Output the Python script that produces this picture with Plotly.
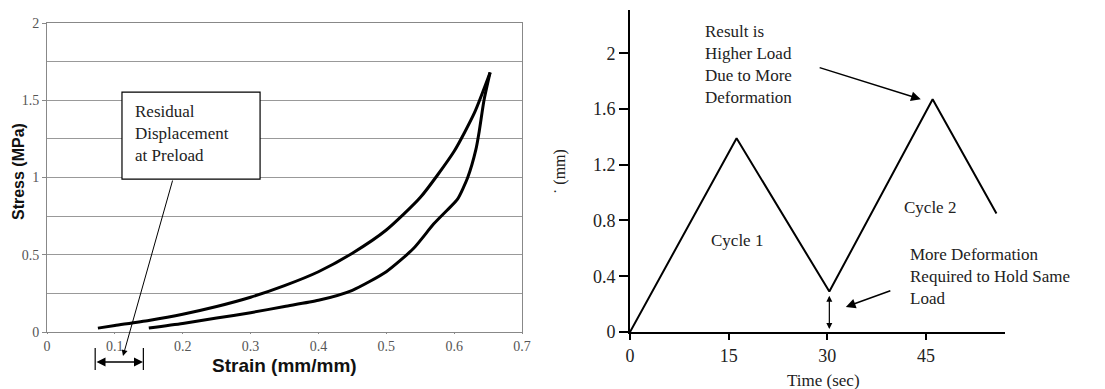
import plotly.graph_objects as go

W, H = 1105, 389

# ---------------- data ----------------
# Left: stress-strain hysteresis
load_strain = [0.075, 0.10, 0.15, 0.20, 0.25, 0.30, 0.35, 0.40, 0.45, 0.50, 0.55, 0.60, 0.63, 0.653]
load_stress = [0.025, 0.042, 0.075, 0.115, 0.165, 0.225, 0.30, 0.39, 0.51, 0.66, 0.87, 1.17, 1.42, 1.68]
unload_strain = [0.653, 0.644, 0.637, 0.632, 0.620, 0.605, 0.590, 0.570, 0.540, 0.50, 0.45, 0.40, 0.35, 0.30, 0.25, 0.20, 0.15]
unload_stress = [1.68, 1.50, 1.30, 1.18, 1.00, 0.86, 0.79, 0.70, 0.54, 0.39, 0.27, 0.205, 0.165, 0.125, 0.09, 0.055, 0.026]

strain_ticks = [0, 0.1, 0.2, 0.3, 0.4, 0.5, 0.6, 0.7]
stress_ticks = [0, 0.5, 1, 1.5, 2]

# Right: displacement vs time
time_s = [0, 16.2, 30.3, 46.0, 55.7]
disp_mm = [0, 1.39, 0.29, 1.67, 0.85]
time_ticks = [0, 15, 30, 45]
disp_ticks = [0, 0.4, 0.8, 1.2, 1.6, 2]
disp_ticktext = ["0", "0.4", "0.8", "1.2", "1.6", "2"]

SERIF = "Liberation Serif, Times New Roman, serif"
SANS = "Liberation Sans, Arial, sans-serif"


def px(x):
    return x / W


def py(y):
    return 1 - y / H


fig = go.Figure()
fig.add_trace(go.Scatter(x=load_strain, y=load_stress, mode="lines",
                         line=dict(color="black", width=3, shape="spline", smoothing=0.6),
                         xaxis="x", yaxis="y", hoverinfo="skip"))
fig.add_trace(go.Scatter(x=unload_strain, y=unload_stress, mode="lines",
                         line=dict(color="black", width=3, shape="spline", smoothing=0.6),
                         xaxis="x", yaxis="y", hoverinfo="skip"))
fig.add_trace(go.Scatter(x=time_s, y=disp_mm, mode="lines",
                         line=dict(color="black", width=2),
                         xaxis="x2", yaxis="y2", hoverinfo="skip"))

annotations = []
shapes = []

# ---- left chart annotations ----
shapes.append(dict(type="rect", xref="x", yref="y", x0=0.1105, x1=0.314, y0=0.99, y1=1.553,
                   line=dict(color="black", width=1.2), fillcolor="white", layer="above"))
annotations.append(dict(xref="x", yref="y", x=0.1265, y=1.50, xanchor="left", yanchor="top",
                        text="Residual<br>Displacement<br>at Preload", showarrow=False, align="left",
                        font=dict(family=SERIF, size=17, color="#222")))
annotations.append(dict(xref="paper", yref="paper", x=px(123), y=py(356), ax=50, ay=-177,
                        text="", showarrow=True,
                        arrowhead=2, arrowsize=1.2, arrowwidth=1, arrowcolor="black"))
annotations.append(dict(xref="paper", yref="paper", x=px(143), y=py(362), ax=-48, ay=0,
                        text="", showarrow=True, arrowside="end+start",
                        arrowhead=2, startarrowhead=2, arrowsize=1.2, startarrowsize=1.2,
                        arrowwidth=1.5, arrowcolor="black"))
for xv in [0.071, 0.142]:
    shapes.append(dict(type="line", xref="x", yref="paper", x0=xv, x1=xv, y0=py(348), y1=py(370),
                       line=dict(color="black", width=1.2)))
annotations.append(dict(xref="paper", yref="paper", x=px(19), y=py(172), text="Stress (MPa)",
                        xanchor="center", yanchor="middle", textangle=-90, showarrow=False,
                        font=dict(family=SANS, size=16, color="#111", weight="bold")))
annotations.append(dict(xref="paper", yref="paper", x=px(284), y=py(365), text="Strain (mm/mm)",
                        xanchor="center", yanchor="middle", showarrow=False,
                        font=dict(family=SANS, size=19, color="#111", weight="bold")))

# ---- right chart annotations ----
annotations.append(dict(xref="x2", yref="y2", x=11.1, y=2.24, xanchor="left", yanchor="top",
                        text="Result is<br>Higher Load<br>Due to More<br>Deformation", showarrow=False,
                        align="left", font=dict(family=SERIF, size=17, color="#222")))
annotations.append(dict(xref="x2", yref="y2", x=44.2, y=1.67, axref="x2", ayref="y2", ax=28.6, ay=1.90,
                        text="", showarrow=True, arrowhead=2, arrowsize=1.3, arrowwidth=1.5,
                        arrowcolor="black"))
annotations.append(dict(xref="x2", yref="y2", x=16.3, y=0.66, text="Cycle 1", showarrow=False,
                        xanchor="center", yanchor="middle", font=dict(family=SERIF, size=17, color="#222")))
annotations.append(dict(xref="x2", yref="y2", x=45.6, y=0.89, text="Cycle 2", showarrow=False,
                        xanchor="center", yanchor="middle", font=dict(family=SERIF, size=17, color="#222")))
annotations.append(dict(xref="x2", yref="y2", x=42.3, y=0.64, xanchor="left", yanchor="top",
                        text="More Deformation<br>Required to Hold Same<br>Load", showarrow=False,
                        align="left", font=dict(family=SERIF, size=17, color="#222")))
annotations.append(dict(xref="x2", yref="y2", x=32.8, y=0.18, axref="x2", ayref="y2", ax=39.8, ay=0.30,
                        text="", showarrow=True, arrowhead=2, arrowsize=1.3, arrowwidth=1.5,
                        arrowcolor="black"))
annotations.append(dict(xref="x2", yref="y2", x=30.3, y=0.26, axref="x2", ayref="y2", ax=30.3, ay=0.01,
                        text="", showarrow=True, arrowside="end+start", arrowhead=2, startarrowhead=2,
                        arrowsize=1, startarrowsize=1, arrowwidth=1.2, arrowcolor="black"))
annotations.append(dict(xref="paper", yref="paper", x=px(823), y=py(380), text="Time (sec)",
                        xanchor="center", yanchor="middle", showarrow=False,
                        font=dict(family=SERIF, size=17, color="#222")))
annotations.append(dict(xref="paper", yref="paper", x=px(560), y=py(172), text="˙ (mm)",
                        xanchor="center", yanchor="middle", textangle=-90, showarrow=False,
                        font=dict(family=SERIF, size=16, color="#222")))

fig.update_layout(
    width=W, height=H, margin=dict(l=0, r=0, t=0, b=0, autoexpand=False),
    paper_bgcolor="white", plot_bgcolor="white", showlegend=False,
    xaxis=dict(domain=[px(47), px(522)], range=[0, 0.7], tickvals=strain_ticks, automargin=False,
               showgrid=False, zeroline=False, showline=True, linecolor="#888", linewidth=1,
               mirror=True, ticks="outside", ticklen=1, tickcolor="#888",
               tickfont=dict(family=SERIF, size=14, color="#555"), anchor="y"),
    yaxis=dict(domain=[py(332), py(23)], range=[0, 2], tickvals=stress_ticks, automargin=False,
               showgrid=True, gridcolor="#999", gridwidth=1, zeroline=False,
               showline=True, linecolor="#888", linewidth=1, mirror=True,
               ticks="outside", ticklen=4, tickcolor="#888",
               minor=dict(dtick=0.25, showgrid=True, gridcolor="#999", gridwidth=1),
               tickfont=dict(family=SERIF, size=14, color="#555"), anchor="x"),
    xaxis2=dict(domain=[px(630), px(1005)], range=[0, 57], tickvals=time_ticks, automargin=False,
                showgrid=False, zeroline=False, showline=True, linecolor="black", linewidth=2,
                ticks="outside", ticklen=6, tickwidth=1.5, tickcolor="black",
                tickfont=dict(family=SERIF, size=18, color="#222"), anchor="y2"),
    yaxis2=dict(domain=[py(332), py(10)], range=[0, 2.31], tickvals=disp_ticks, ticktext=disp_ticktext,
                automargin=False,
                showgrid=False, zeroline=False, showline=True, linecolor="black", linewidth=2,
                ticks="outside", ticklen=9, tickwidth=1.5, tickcolor="black",
                tickfont=dict(family=SERIF, size=18, color="#222"), anchor="x2"),
    annotations=annotations, shapes=shapes,
)

fig.write_html("out.html")
